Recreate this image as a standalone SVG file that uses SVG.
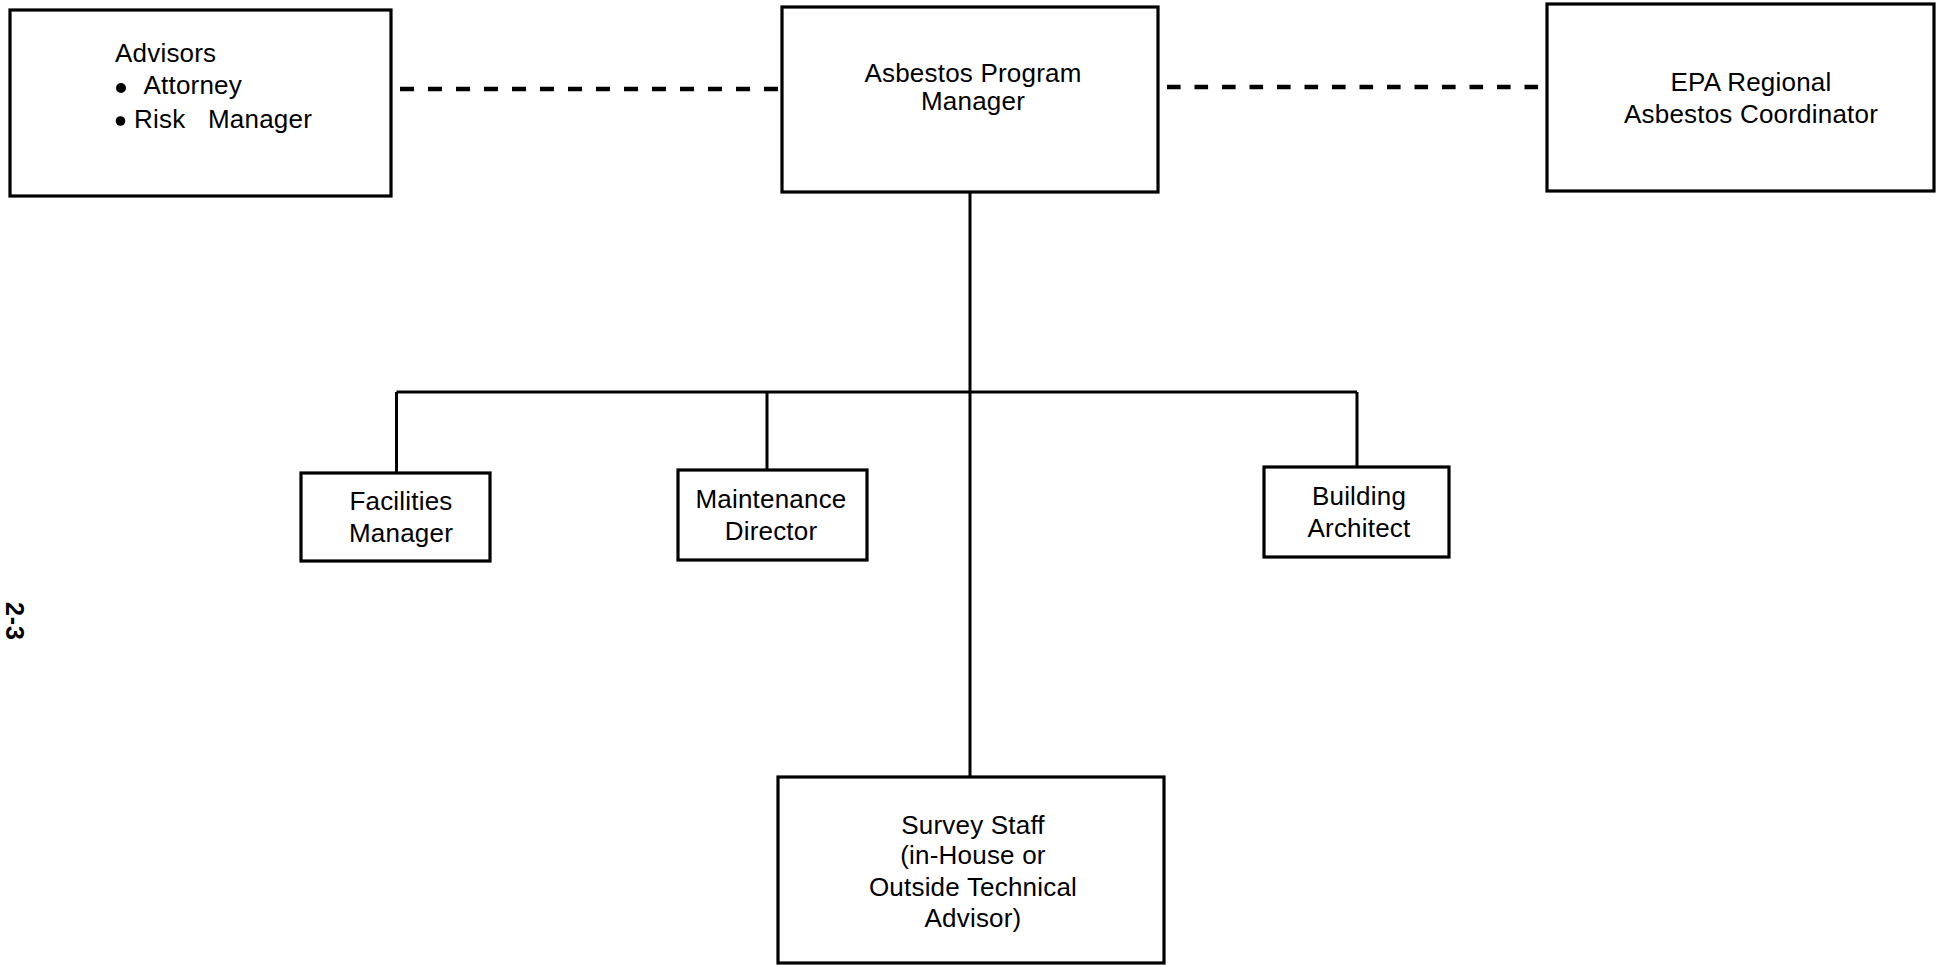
<svg xmlns="http://www.w3.org/2000/svg" width="1943" height="965" viewBox="0 0 1943 965">
<style>
.box{fill:#fff;stroke:#000;stroke-width:3.2}
.t{font-family:"Liberation Sans",Arial,sans-serif;font-size:26px;fill:#000;letter-spacing:0.2px}
.c{text-anchor:middle}
.ln{fill:none;stroke:#000;stroke-width:3}
.dash{fill:none;stroke:#000;stroke-width:4.3;stroke-dasharray:14 14}
</style>
<rect width="1943" height="965" fill="#fff"/>
<g id="connectors">
<path class="dash" d="M400 89H781"/>
<path class="dash" d="M1167 87H1546" style="stroke-dasharray:13.6 13.9"/>
<path class="ln" d="M970 192V777"/>
<path class="ln" d="M396.5 392H1357"/>
<path class="ln" d="M396.5 392V472"/>
<path class="ln" d="M767 392V470"/>
<path class="ln" d="M1357 392V467"/>
</g>
<g id="advisors">
<rect class="box" x="10" y="10" width="381" height="186"/>
<text class="t" x="115" y="62">Advisors</text>
<circle cx="121" cy="88" r="5"/>
<text class="t" x="143.5" y="94">Attorney</text>
<circle cx="120.5" cy="121" r="4.8"/>
<text class="t" y="128"><tspan x="134">Risk</tspan><tspan x="208">Manager</tspan></text>
</g>
<g id="program-manager">
<rect class="box" x="782" y="7" width="376" height="185"/>
<text class="t c" x="973" y="82">Asbestos Program</text>
<text class="t c" x="973" y="110">Manager</text>
</g>
<g id="epa">
<rect class="box" x="1547" y="4" width="387" height="187"/>
<text class="t c" x="1751" y="91">EPA Regional</text>
<text class="t c" x="1751" y="123">Asbestos Coordinator</text>
</g>
<g id="facilities">
<rect class="box" x="301" y="473" width="189" height="88"/>
<text class="t c" x="401" y="510">Facilities</text>
<text class="t c" x="401" y="542">Manager</text>
</g>
<g id="maintenance">
<rect class="box" x="678" y="470" width="189" height="90"/>
<text class="t c" x="771" y="508">Maintenance</text>
<text class="t c" x="771" y="540">Director</text>
</g>
<g id="architect">
<rect class="box" x="1264" y="467" width="185" height="90"/>
<text class="t c" x="1359" y="505">Building</text>
<text class="t c" x="1359" y="537">Architect</text>
</g>
<g id="survey">
<rect class="box" x="778" y="777" width="386" height="186"/>
<text class="t c" x="973" y="834">Survey Staff</text>
<text class="t c" x="973" y="864">(in-House or</text>
<text class="t c" x="973" y="896">Outside Technical</text>
<text class="t c" x="973" y="927">Advisor)</text>
</g>
<text transform="translate(6,621) rotate(90)" text-anchor="middle" font-family="Liberation Sans,Arial,sans-serif" font-size="25" font-weight="bold" textLength="38">2-3</text>
</svg>
